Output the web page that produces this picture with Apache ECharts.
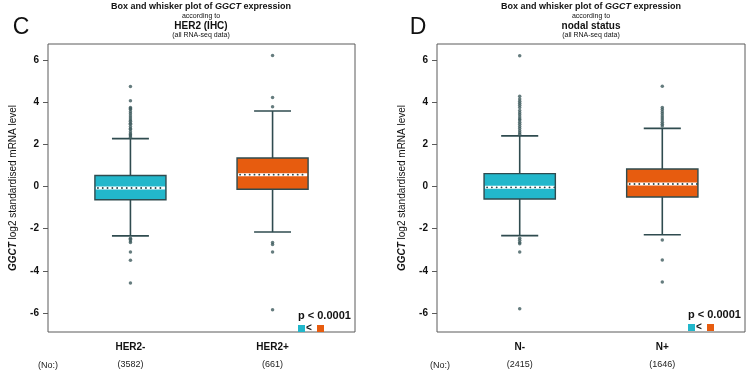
<!DOCTYPE html>
<html>
<head>
<meta charset="utf-8">
<script src="https://cdn.jsdelivr.net/npm/echarts@6/dist/echarts.min.js"></script>
<style>
html,body{margin:0;padding:0;background:#fff;}
#chart{width:749px;height:379px;}
</style>
</head>
<body>
<div id="chart"></div>
<script>
// ---------- data ----------
const yTicks = [-6, -4, -2, 0, 2, 4, 6];
const catsC = ['HER2-', 'HER2+'];
const countsC = ['(3582)', '(661)'];
const catsD = ['N-', 'N+'];
const countsD = ['(2415)', '(1646)'];
// [whiskerLow, Q1, median, Q3, whiskerHigh]
const boxHER2neg = [-2.34, -0.63, -0.07, 0.52, 2.27];
const boxHER2pos = [-2.16, -0.13, 0.56, 1.35, 3.58];
const boxNneg = [-2.33, -0.59, -0.04, 0.61, 2.40];
const boxNpos = [-2.29, -0.50, 0.12, 0.83, 2.76];
const outHER2neg = [4.75, 4.07, 3.75, 3.7, 3.65, 3.55, 3.45, 3.35, 3.25, 3.15, 3.1, 3.0, 2.95, 2.85, 2.75, 2.7, 2.6, 2.5, 2.45, 2.4, 2.33,
  -2.45, -2.5, -2.58, -2.65, -3.1, -3.5, -4.57];
const outHER2pos = [6.22, 4.22, 3.78, -2.65, -2.75, -3.1, -5.85];
const outNneg = [6.2, 4.28, 4.15, 4.05, 3.95, 3.85, 3.75, 3.6, 3.5, 3.4, 3.3, 3.2, 3.15, 3.05, 2.95, 2.85, 2.75, 2.65, 2.55, 2.47,
  -2.45, -2.55, -2.65, -2.72, -3.1, -5.8];
const outNpos = [4.76, 3.75, 3.65, 3.55, 3.45, 3.35, 3.25, 3.15, 3.05, 2.95, 2.87, -2.54, -3.49, -4.53];
const pText = 'p < 0.0001';

// ---------- styles ----------
const FONT = '"Liberation Sans", Arial, sans-serif';
const TEAL = '#22B7CB';
const ORANGE = '#E75C0F';
const EDGE = '#2F4B4F';
const DOT = '#3F5B5E';
const FRAME = '#5a5a5a';

const boxColors = [TEAL, ORANGE];

function renderBox(params, api) {
  const x = api.value(0);
  const lo = api.value(1), q1 = api.value(2), md = api.value(3), q3 = api.value(4), hi = api.value(5);
  const pLo = api.coord([x, lo]), pQ1 = api.coord([x, q1]), pMd = api.coord([x, md]);
  const pQ3 = api.coord([x, q3]), pHi = api.coord([x, hi]);
  const bw = api.size([0.5, 0])[0];
  const cw = api.size([0.26, 0])[0];
  const cx = pLo[0];
  const ls = { stroke: EDGE, lineWidth: 1.6 };
  const fill = boxColors[params.dataIndex];
  return {
    type: 'group',
    children: [
      { type: 'line', shape: { x1: cx, y1: pLo[1], x2: cx, y2: pQ1[1] }, style: ls },
      { type: 'line', shape: { x1: cx, y1: pQ3[1], x2: cx, y2: pHi[1] }, style: ls },
      { type: 'line', shape: { x1: cx - cw / 2, y1: pLo[1], x2: cx + cw / 2, y2: pLo[1] }, style: ls },
      { type: 'line', shape: { x1: cx - cw / 2, y1: pHi[1], x2: cx + cw / 2, y2: pHi[1] }, style: ls },
      { type: 'rect', shape: { x: cx - bw / 2, y: pQ3[1], width: bw, height: pQ1[1] - pQ3[1] },
        style: { fill: fill, stroke: EDGE, lineWidth: 1.4 } },
      { type: 'line', shape: { x1: cx - bw / 2 + 1, y1: pMd[1], x2: cx + bw / 2 - 1, y2: pMd[1] },
        style: { stroke: '#ffffff', lineWidth: 3 } },
      { type: 'line', shape: { x1: cx - bw / 2 + 3, y1: pMd[1], x2: cx + bw / 2 - 1, y2: pMd[1] },
        style: { stroke: EDGE, lineWidth: 1.8, lineDash: [0.1, 4.7], lineCap: 'round' } }
    ]
  };
}

function xAxisFor(gridIndex, cats, counts) {
  return {
    type: 'value', gridIndex: gridIndex, min: 0.42, max: 2.58,
    axisLine: { show: false },
    splitLine: { show: false },
    axisTick: { show: true, customValues: [1, 2], length: 5, lineStyle: { color: FRAME } },
    axisLabel: {
      customValues: [1, 2], margin: 6,
      formatter: function (v) {
        const i = Math.round(v) - 1;
        return '{a|' + cats[i] + '}\n{b|' + counts[i] + '}';
      },
      rich: {
        a: { fontFamily: FONT, fontSize: 10, fontWeight: 'bold', color: '#111', lineHeight: 18 },
        b: { fontFamily: FONT, fontSize: 9, color: '#222', lineHeight: 18 }
      }
    }
  };
}

function yAxisFor(gridIndex) {
  return {
    type: 'value', gridIndex: gridIndex, min: -6.9, max: 6.76,
    axisLine: { show: false },
    splitLine: { show: false },
    axisTick: { show: true, customValues: yTicks, length: 5, lineStyle: { color: FRAME } },
    axisLabel: { customValues: yTicks, margin: 9, fontFamily: FONT, fontSize: 10, fontWeight: 'bold', color: '#111' },
    name: '{i|GGCT} log2 standardised mRNA level',
    nameLocation: 'middle', nameRotate: 90, nameGap: 30,
    nameTextStyle: {
      fontFamily: FONT, fontSize: 10, color: '#111',
      rich: { i: { fontFamily: FONT, fontSize: 10, fontWeight: 'bold', fontStyle: 'italic', color: '#111' } }
    }
  };
}

function boxData(a, b) {
  return [[1].concat(a), [2].concat(b)];
}
function outData(a, b) {
  return a.map(v => [1, v]).concat(b.map(v => [2, v]));
}

function titleGroup(cx, letterX, letter, subject) {
  const base = { fontFamily: FONT, fill: '#111' };
  return [
    { type: 'text', x: cx, y: 7, style: Object.assign({}, base, {
        text: '{b|Box and whisker plot of }{bi|GGCT}{b| expression}',
        rich: { b: { fontFamily: FONT, fontSize: 9, fontWeight: 'bold' }, bi: { fontFamily: FONT, fontSize: 9, fontWeight: 'bold', fontStyle: 'italic' } },
        align: 'center', verticalAlign: 'middle' }) },
    { type: 'text', x: cx, y: 16, style: Object.assign({}, base, { text: 'according to', fontSize: 7, align: 'center', verticalAlign: 'middle' }) },
    { type: 'text', x: cx, y: 26, style: Object.assign({}, base, { text: subject, fontSize: 10, fontWeight: 'bold', align: 'center', verticalAlign: 'middle' }) },
    { type: 'text', x: cx, y: 35, style: Object.assign({}, base, { text: '(all RNA-seq data)', fontSize: 7, align: 'center', verticalAlign: 'middle' }) },
    { type: 'text', x: letterX, y: 28, style: Object.assign({}, base, { text: letter, fontSize: 23, align: 'center', verticalAlign: 'middle' }) }
  ];
}

function pGroup(x, y) {
  return [
    { type: 'text', x: x, y: y, style: { text: pText, fontFamily: FONT, fontSize: 11, fontWeight: 'bold', fill: '#111', align: 'left', verticalAlign: 'middle' } },
    { type: 'rect', shape: { x: x, y: y + 9, width: 7, height: 7 }, style: { fill: TEAL } },
    { type: 'text', x: x + 11, y: y + 12.5, style: { text: '<', fontFamily: FONT, fontSize: 10, fontWeight: 'bold', fill: '#111', align: 'center', verticalAlign: 'middle' } },
    { type: 'rect', shape: { x: x + 19, y: y + 9, width: 7, height: 7 }, style: { fill: ORANGE } }
  ];
}

const chart = echarts.init(document.getElementById('chart'), null, { renderer: 'canvas' });
chart.setOption({
  animation: false,
  backgroundColor: '#ffffff',
  grid: [
    { left: 48, top: 44, width: 307, height: 288, show: true, borderColor: FRAME, borderWidth: 1, backgroundColor: 'transparent' },
    { left: 437, top: 44, width: 308, height: 288, show: true, borderColor: FRAME, borderWidth: 1, backgroundColor: 'transparent' }
  ],
  xAxis: [xAxisFor(0, catsC, countsC), xAxisFor(1, catsD, countsD)],
  yAxis: [yAxisFor(0), yAxisFor(1)],
  series: [
    { type: 'custom', xAxisIndex: 0, yAxisIndex: 0, renderItem: renderBox, data: boxData(boxHER2neg, boxHER2pos), z: 2 },
    { type: 'scatter', xAxisIndex: 0, yAxisIndex: 0, symbol: 'circle', symbolSize: 3.5, itemStyle: { color: DOT }, data: outData(outHER2neg, outHER2pos), z: 3 },
    { type: 'custom', xAxisIndex: 1, yAxisIndex: 1, renderItem: renderBox, data: boxData(boxNneg, boxNpos), z: 2 },
    { type: 'scatter', xAxisIndex: 1, yAxisIndex: 1, symbol: 'circle', symbolSize: 3.5, itemStyle: { color: DOT }, data: outData(outNneg, outNpos), z: 3 }
  ],
  graphic: [].concat(
    titleGroup(201, 21, 'C', 'HER2 (IHC)'),
    titleGroup(591, 418, 'D', 'nodal status'),
    pGroup(298, 316),
    pGroup(688, 315),
    [
      { type: 'text', x: 48, y: 366, style: { text: '(No:)', fontFamily: FONT, fontSize: 9, fill: '#222', align: 'center', verticalAlign: 'middle' } },
      { type: 'text', x: 440, y: 366, style: { text: '(No:)', fontFamily: FONT, fontSize: 9, fill: '#222', align: 'center', verticalAlign: 'middle' } }
    ]
  )
});
</script>
</body>
</html>
